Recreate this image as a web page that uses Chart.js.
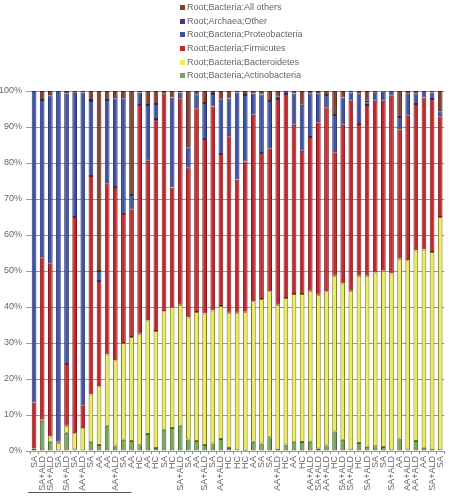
<!DOCTYPE html>
<html>
<head>
<meta charset="utf-8">
<script src="https://cdn.jsdelivr.net/npm/chart.js@4.4.0/dist/chart.umd.min.js"></script>
<style>
  body { margin: 0; background: #fff; }
  #wrap { position: relative; width: 453px; height: 496px; }
  #legend { position: absolute; left: 180px; top: 1px; font: 9px "Liberation Sans", Arial, sans-serif; color: #666; }
  #legend div { height: 13.7px; line-height: 13.7px; white-space: nowrap; }
  #legend span { display: inline-block; width: 5px; height: 5px; margin-right: 2px; vertical-align: 0px; }
</style>
</head>
<body>
<div id="wrap">
  <canvas id="phylaChart" width="453" height="496"></canvas>
  <div id="legend"></div>
</div>
<script>
// sample groups along the x axis
const samples = ['SA', 'SA+ALD', 'SA+ALD', 'SA', 'SA+ALD', 'SA', 'AA+ALD', 'SA', 'AA', 'AA',
  'AA+ALD', 'SA', 'AA', 'HC', 'AA', 'HC', 'SA', 'HC', 'SA+ALD', 'SA',
  'AA', 'SA+ALD', 'SA', 'AA+ALD', 'HC', 'HC', 'HC', 'AA', 'SA', 'SA',
  'AA+ALD', 'HC', 'AA', 'HC', 'AA+ALD', 'SA+ALD', 'AA+ALD', 'HC', 'SA+ALD', 'SA+ALD',
  'HC', 'SA+ALD', 'SA', 'SA', 'SA+ALD', 'AA', 'AA+ALD', 'AA+ALD', 'AA', 'SA+ALD', 'SA'];

// relative abundance, percent
const actinobacteria = [0.7, 8.4, 2.6, 0, 5.1, 0.4, 0, 2.6, 1.7, 7.0,
  1.5, 3.1, 2.8, 1.6, 4.7, 0.8, 5.9, 6.4, 7.0, 3.2,
  2.8, 1.7, 2.1, 3.3, 0.8, 0.2, 0.1, 2.6, 2.1, 3.8,
  0.3, 1.8, 2.6, 2.5, 2.6, 0.7, 1.5, 5.4, 3.1, 0.2,
  2.2, 1.2, 1.3, 1.1, 0.2, 3.5, 0.4, 2.8, 0.9, 0.3, 0.2];
const bacteroidetes = [0, 0.3, 1.4, 2.3, 1.9, 4.5, 6.3, 13.1, 16.3, 19.8,
  23.7, 26.9, 28.9, 31.0, 31.6, 32.5, 32.9, 33.5, 33.6, 33.9,
  35.8, 36.5, 36.9, 37.0, 37.6, 38.2, 38.6, 39.0, 40.1, 40.6,
  40.3, 40.7, 41.0, 41.1, 41.9, 42.7, 42.9, 43.3, 43.4, 44.3,
  46.5, 47.5, 48.3, 49.0, 49.1, 49.9, 52.6, 52.9, 55.1, 55.0, 64.8];
const firmicutes = [12.8, 45.1, 48.0, 0.3, 17.2, 60.1, 6.3, 60.7, 29.2, 47.6,
  48.1, 35.8, 35.3, 63.5, 44.3, 58.9, 60.6, 33.3, 57.4, 41.7,
  56.6, 48.5, 56.7, 42.2, 49.0, 37.0, 41.7, 51.8, 40.6, 39.7,
  57.2, 56.7, 47.0, 39.8, 42.7, 47.9, 51.1, 34.3, 44.1, 52.8,
  42.1, 47.4, 47.7, 47.2, 49.4, 36.0, 40.1, 40.7, 42.2, 42.5, 28.0];
const proteobacteria = [86.5, 43.7, 46.8, 97.4, 75.2, 34.5, 87.0, 20.8, 2.8, 23.1,
  24.7, 32.2, 4.1, 3.5, 15.5, 4.2, 0, 25.0, 1.6, 5.6,
  3.9, 10.0, 3.5, 15.1, 10.5, 24.2, 18.5, 5.9, 16.2, 13.1,
  0.6, 0.8, 8.7, 12.8, 12.2, 8.1, 3.4, 10.3, 7.6, 2.3,
  8.6, 0.8, 2.2, 2.5, 1.3, 3.4, 6.3, 3.0, 1.8, 1.8, 1.4];
const archaea = [0, 0, 0, 0, 0, 0, 0, 0.3, 0, 0,
  0, 0, 0, 0, 0, 0, 0, 0, 0, 0,
  0, 0, 0, 0, 0, 0, 0, 0, 0, 0,
  0, 0, 0, 0, 0, 0, 0, 0, 0, 0,
  0, 0.4, 0, 0, 0, 0, 0, 0, 0, 0, 0];
const allOthers = [0, 2.5, 1.2, 0, 0.6, 0.5, 0.4, 2.5, 50.0, 2.5,
  2.0, 2.0, 28.9, 0.4, 3.9, 3.6, 0.6, 1.8, 0.4, 15.6,
  0.9, 3.3, 0.8, 2.4, 2.1, 0.4, 1.1, 0.7, 1.0, 2.8,
  1.6, 0, 0.7, 3.8, 0.6, 0.6, 1.1, 6.7, 1.8, 0.4,
  0.6, 2.7, 0.5, 0.2, 0, 7.2, 0.6, 0.6, 0, 0.4, 5.6];

const series = [
  { label: 'Root;Bacteria;Actinobacteria', data: actinobacteria, fill: '#79a65a', edge: '#3f5f2c' },
  { label: 'Root;Bacteria;Bacteroidetes', data: bacteroidetes, fill: '#eceb5c', edge: '#7a7520' },
  { label: 'Root;Bacteria;Firmicutes', data: firmicutes, fill: '#c1282e', edge: '#7c1519' },
  { label: 'Root;Bacteria;Proteobacteria', data: proteobacteria, fill: '#3f51a3', edge: '#26336d' },
  { label: 'Root;Archaea;Other', data: archaea, fill: '#5b2d82', edge: '#2f1745' },
  { label: 'Root;Bacteria:All others', data: allOthers, fill: '#833f2f', edge: '#4b2018' }
];

// legend, top to bottom in reverse stack order
const legend = document.getElementById('legend');
series.slice().reverse().forEach(s => {
  const row = document.createElement('div');
  row.innerHTML = '<span style="background:' + s.fill + '"></span>' + s.label;
  legend.appendChild(row);
});

// short line under the first samples
const bracket = {
  id: 'bracket',
  afterDraw(chart) {
    const x = chart.scales.x;
    const ctx = chart.ctx;
    ctx.save();
    ctx.strokeStyle = '#555';
    ctx.lineWidth = 1;
    ctx.beginPath();
    ctx.moveTo(x.getPixelForValue(0) - 6, 492.5);
    ctx.lineTo(x.getPixelForValue(12), 492.5);
    ctx.stroke();
    ctx.restore();
  }
};

new Chart(document.getElementById('phylaChart'), {
  type: 'bar',
  data: {
    labels: samples,
    datasets: series.map(s => ({
      label: s.label,
      data: s.data,
      backgroundColor: s.fill,
      borderColor: s.edge,
      borderWidth: 1,
      borderSkipped: false,
      barPercentage: 0.58,
      categoryPercentage: 1
    }))
  },
  options: {
    responsive: false,
    animation: false,
    layout: { padding: { top: 91, right: 0, left: 0, bottom: 0 } },
    plugins: {
      legend: { display: false },
      tooltip: { enabled: false }
    },
    scales: {
      x: {
        stacked: true,
        ticks: {
          color: '#666',
          font: { family: 'Liberation Sans, Arial', size: 9 },
          minRotation: 90,
          maxRotation: 90,
          autoSkip: false,
          padding: 2
        },
        grid: { offset: true, drawOnChartArea: false, tickLength: 3, color: '#888' },
        border: { display: true, color: '#999' },
        afterFit(scale) { scale.height = 45; }
      },
      y: {
        stacked: true,
        min: 0,
        max: 100,
        ticks: {
          stepSize: 10,
          color: '#666',
          font: { family: 'Liberation Sans, Arial', size: 9 },
          padding: 4,
          callback: v => v + '%'
        },
        grid: { color: '#9a9a9a', tickLength: 4 },
        border: { display: false },
        afterFit(scale) { scale.width = 30; }
      }
    }
  },
  plugins: [bracket]
});
</script>
</body>
</html>
